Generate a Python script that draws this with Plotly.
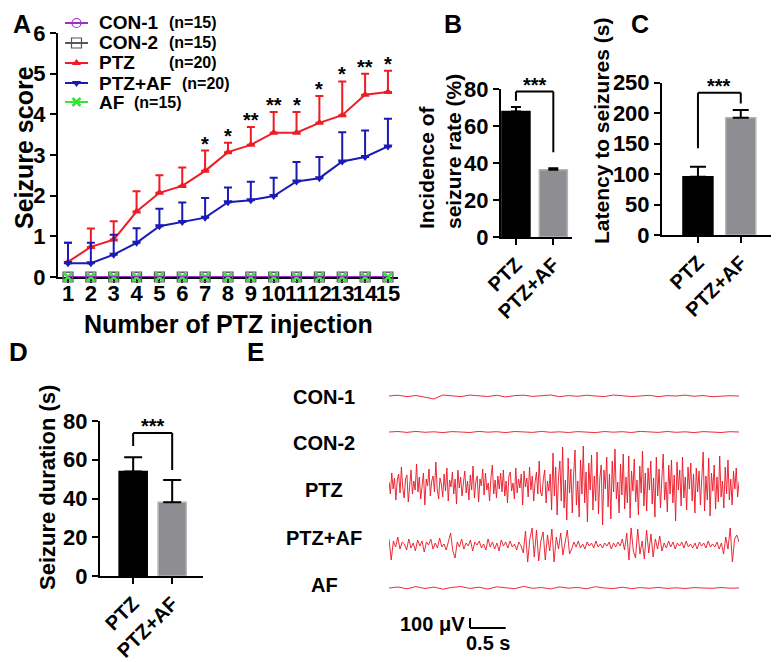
import plotly.graph_objects as go

# The page body has an 8 px margin, so the figure is drawn 8 px smaller and
# every layout position (given in reference-picture pixels) is shifted by it.
OFF = 8
FW, FH = 779 - OFF, 662 - OFF
FONT = "Liberation Sans, Arial, sans-serif"

def px(x):
    return (x - OFF) / FW

def py(y):
    return 1 - (y - OFF) / FH

# ---------------- Panel A data ----------------
injections = list(range(1, 16))
ptz_mean = [0.37, 0.74, 0.92, 1.61, 2.07, 2.24, 2.61, 3.07, 3.25, 3.55, 3.55, 3.79, 3.98, 4.48, 4.55]
ptz_err = [0.47, 0.45, 0.45, 0.50, 0.43, 0.45, 0.50, 0.23, 0.44, 0.51, 0.51, 0.66, 0.83, 0.52, 0.52]
ptzaf_mean = [0.34, 0.34, 0.55, 0.84, 1.25, 1.35, 1.46, 1.84, 1.89, 1.99, 2.35, 2.43, 2.84, 2.95, 3.21]
ptzaf_err = [0.50, 0.50, 0.49, 0.36, 0.43, 0.48, 0.48, 0.36, 0.45, 0.45, 0.48, 0.52, 0.72, 0.65, 0.68]
con1_score = [0, 0, 0, 0, 0, 0, 0, 0, 0, 0, 0, 0, 0, 0, 0]
con2_score = [0, 0, 0, 0, 0, 0, 0, 0, 0, 0, 0, 0, 0, 0, 0]
af_score = [0, 0, 0, 0, 0, 0, 0, 0, 0, 0, 0, 0, 0, 0, 0]
sig_A = ["", "", "", "", "", "", "*", "*", "**", "**", "*", "*", "*", "**", "*"]
legend_names = ["CON-1", "CON-2", "PTZ", "PTZ+AF", "AF"]
legend_n = ["(n=15)", "(n=15)", "(n=20)", "(n=20)", "(n=15)"]

# ---------------- Panels B, C, D data ----------------
groups = ["PTZ", "PTZ+AF"]
incidence = [67.8, 36.3]
incidence_err = [2.5, 0.9]
latency = [95.6, 192.5]
latency_err = [16.4, 12.5]
duration = [54.0, 38.0]
duration_err = [7.3, 11.5]
# significance brackets: (left foot, top, right foot)
bracket_B = [73.6, 78.6, 45.8]
bracket_C = [142.6, 233.5, 216.0]
bracket_D = [67.1, 73.8, 54.7]

# ---------------- Panel E data (EEG, microvolts) ----------------
eeg_con1 = [0, 8, -6, 5, -12, -30, 10, 4, -6, 9, 0, -5, 7, -9, 4, 8, -4, 0, 10, -7,
            5, -3, 8, 0, -6, 10, 4, -5, 0, 7, -7, 4, 0, 9, -3, 5, -7, 0, 3, 0]
eeg_con2 = [0, 5, -4, 6, -3, 2, -6, 4, 0, -5, 6, -2, 3, -6, 5, 0, -4, 6, -3, 2,
            -5, 4, 0, -6, 5, -2, 3, -5, 6, 0, -4, 5, -3, 2, -6, 4, 0, -5, 3, 0]
eeg_ptz = [30, -90, 120, -40, 70, -150, 50, 110, -80, 180, -30, -130, 60, 100, -170, 20, 150, -90, 40, -50,
           210, -70, 80, -140, 30, 120, -200, 60, -10, 160, -110, 40, 90, -70, 230, -40, -140, 70, 10, -120,
           110, -60, 170, -160, 50, -20, 130, -90, 60, -190, 150, -30, 80, -110, 20, 140, -80, 40, -150, 100,
           -50, 190, -130, 30, 90, -170, 60, -10, 160, -100, 120, -50, 20, -160, 80, 200, -90, 50, -130, 90,
           -40, 120, -70, 150, -110, 40, -180, 90, 130, -60, 20, -140, 170, -80, 60, -30, 110, -200, 140, -20,
           70, -120, 180, -50, 90, -160, 30, 130, -90, 240, -70, -110, 60, 150, -180, 40, -60, 110,
           -250, 320, -110, 180, -300, 80, 240, -160, 380, -230, 50, -350, 270, -80, 160, -280, 110, 350, -200, 40,
           -320, 250, -90, 390, -180, 130, -370, 220, -50, 300, -250, 90, -160, 330, -290, 70, 200, -400, 150, -40,
           280, -220, 110, -340, 240, -70, 360, -140, 30, -280, 210, -100, 310, -240, 80, -180, 290, -330, 140, -60,
           260, -170, 50, -300, 190, -80, 340, -210, 120, -260, 170, -50, 240, -190, 70, -320, 280, -110, 160, -230,
           60, 310, -150, 30, -270, 200, -90, 250, -180, 100, -360, 230, -50, 150, -210, 280, -130, 80, -250, 180,
           -40, 220, -160, 110, -280, 170, -70, 140, -200, 50, 330, -260, 90, -150, 270, -310, 120, -60, 200, -240,
           80, -170, 290, -120, 40, -230, 180, -90, 250, -150, 60, -200, 140, -40, 170, -120, 30]
eeg_ptzaf = [60, -150, 40, -20, 80, -40, 30, 10, -50, 60, -30, 20, -60, 50, -10, 40, -70, 30, 0, 60,
             -40, 20, -30, 70, -20, 10, -50, 40, 120, -60, -130, 30, -20, 60, -40, 20, -10, 50, -60, 30,
             0, 40, -30, 10, -50, 60, -20, 30, -40, 20, -60, 50, -10, 30, -30, 40, -20, 10, -50, 30, -10,
             -80, 140, -170, 60, 170, -120, 150, -160, 40, 130, -150, 100, -60, 160, -170, 80, -40, 120, -100, 30,
             150, -90, -40, 30, -20, 40, -30, 10, -40, 30, -10, 20, -30, 40, -20, 10, -30, 20, -10, 30,
             -40, 20, -20, 30, -10, 60, -50,
             120, -150, 170, -60, -130, 160, -90, 40, -140, 150, -80, 110, -120, 60, -40,
             90, -60, 20, -30, 40, -20, 30, -40, 20, -10, 30, -30, 40, -20, 10, -30, 20, -40, 30, -10,
             20, -30, 40, -20, 10, -20, 30, -40, 20,
             -90, 80, -40, 170, -170, 60, 100, 30]
eeg_af = [0, 10, -8, 14, -5, 9, -12, 6, 15, -4, 8, -10, 12, 0, -7, 16, -3, 5, -9, 11,
          -2, 6, -8, 13, 0, -5, 8, -6, 4, -3, 6, -4, 2, -5, 4, 0, -3, 5, -2, 0]
eeg_names = ["CON-1", "CON-2", "PTZ", "PTZ+AF", "AF"]
eeg_series = [eeg_con1, eeg_con2, eeg_ptz, eeg_ptzaf, eeg_af]
eeg_duration_s = 4.9
# vertical baselines of the stacked traces (layout, in the panel's µV units)
eeg_baselines = [2640, 2280, 1750, 1150, 720]
label_offsets = [2630, 2170, 1700, 1220, 750]

RED = "#ee1c25"
BLUE = "#1a1ab4"
GREY = "#8e8e92"
PURPLE = "#9b30c8"
GREEN = "#33e633"

styles = [
    dict(line=dict(color=PURPLE, width=2), marker=dict(symbol="circle-open", size=9, color=PURPLE, line=dict(width=1.2))),
    dict(line=dict(color="#222222", width=1.5), marker=dict(symbol="square-open", size=10, color="#555555", line=dict(width=1.2))),
    dict(line=dict(color=RED, width=2), marker=dict(symbol="triangle-up", size=8, color=RED)),
    dict(line=dict(color=BLUE, width=2), marker=dict(symbol="triangle-down", size=8, color=BLUE)),
    dict(line=dict(color=GREEN, width=2), marker=dict(symbol="x-thin-open", size=8, color=GREEN, line=dict(width=2.5, color=GREEN))),
]

fig = go.Figure()

# ---------------- Panel A ----------------
series_A = [con1_score, con2_score, ptz_mean, ptzaf_mean, af_score]
errs_A = [None, None, ptz_err, ptzaf_err, None]
for k, (vals, err, st) in enumerate(zip(series_A, errs_A, styles)):
    kw = {}
    if err is not None:
        kw["error_y"] = dict(type="data", array=err, arrayminus=[0] * len(err), symmetric=False,
                             color=st["line"]["color"], thickness=2, width=4)
    fig.add_trace(go.Scatter(x=injections, y=vals, mode="lines+markers", xaxis="x", yaxis="y",
                             name=legend_names[k], showlegend=False, cliponaxis=False,
                             line=st["line"], marker=st["marker"], **kw))
# purple control line drawn on top of the zero line
fig.add_trace(go.Scatter(x=injections, y=con1_score, mode="lines", xaxis="x", yaxis="y",
                         line=dict(color=PURPLE, width=2), showlegend=False, cliponaxis=False,
                         hoverinfo="skip"))

annotations = []
for i, s in enumerate(sig_A):
    if s:
        annotations.append(dict(x=injections[i], y=ptz_mean[i] + ptz_err[i], xref="x", yref="y",
                                text="<b>%s</b>" % s, showarrow=False, yanchor="bottom",
                                yshift=-6, font=dict(size=20, color="black", family=FONT)))

# manual legend (legend axes x6/y6 use reference-pixel units)
legend_rows = [23, 43, 63, 83, 102]
for k, st in enumerate(styles):
    fig.add_trace(go.Scatter(x=[65, 88], y=[legend_rows[k]] * 2, mode="lines", xaxis="x6", yaxis="y6",
                             line=st["line"], showlegend=False, hoverinfo="skip", cliponaxis=False))
    fig.add_trace(go.Scatter(x=[76.5], y=[legend_rows[k]], mode="markers", xaxis="x6", yaxis="y6",
                             marker=st["marker"], showlegend=False, hoverinfo="skip", cliponaxis=False))
legend_n_x = [167, 167, 167, 180, 132]
for k in range(5):
    annotations.append(dict(x=px(97), y=legend_rows[k], xref="paper", yref="y6", xanchor="left",
                            text="<b>%s</b>" % legend_names[k], showarrow=False,
                            font=dict(size=19, color="black", family=FONT)))
    annotations.append(dict(x=px(legend_n_x[k]), y=legend_rows[k], xref="paper", yref="y6", xanchor="left",
                            text="<b>%s</b>" % legend_n[k], showarrow=False,
                            font=dict(size=16, color="black", family=FONT)))

# ---------------- Bar panels ----------------
bar_specs = [
    ("x2", "y2", incidence, incidence_err, bracket_B, 0.75, 5),
    ("x3", "y3", latency, latency_err, bracket_C, 0.70, 8),
    ("x4", "y4", duration, duration_err, bracket_D, 0.72, 9),
]
shapes = []
for xa, ya, vals, errs, br, bw, cw in bar_specs:
    fig.add_trace(go.Bar(
        x=[0, 1], y=vals, xaxis=xa, yaxis=ya, width=bw, showlegend=False,
        marker=dict(color=["black", GREY], line=dict(color=["black", "#b4b4b8"], width=1.5)),
        error_y=dict(type="data", array=errs, arrayminus=[0, 0], symmetric=False,
                     color="black", thickness=2, width=cw)))
    shapes.append(dict(type="line", xref=xa, yref=ya, x0=0, x1=0, y0=br[0], y1=br[1],
                       line=dict(color="black", width=2)))
    shapes.append(dict(type="line", xref=xa, yref=ya, x0=0, x1=1, y0=br[1], y1=br[1],
                       line=dict(color="black", width=2)))
    shapes.append(dict(type="line", xref=xa, yref=ya, x0=1, x1=1, y0=br[1], y1=br[2],
                       line=dict(color="black", width=2)))
    annotations.append(dict(x=0.5, y=br[1], xref=xa, yref=ya, text="<b>***</b>", showarrow=False,
                            yanchor="bottom", yshift=-6, font=dict(size=20, color="black", family=FONT)))

# ---------------- Panel E ----------------
for name, series, base in zip(eeg_names, eeg_series, eeg_baselines):
    n = len(series)
    t = [eeg_duration_s * i / (n - 1) for i in range(n)]
    fig.add_trace(go.Scatter(
        x=t, y=[base + v for v in series], mode="lines", xaxis="x5", yaxis="y5",
        line=dict(color="rgba(235,20,35,0.9)", width=1), showlegend=False, hoverinfo="skip"))
for name, yl in zip(eeg_names, label_offsets):
    annotations.append(dict(x=px(324), y=yl, xref="paper", yref="y5", text="<b>%s</b>" % name,
                            showarrow=False, font=dict(size=20, color="black", family=FONT)))

# scale bar: 100 µV, 0.5 s
sb_t0, sb_v0 = 1.134, 320
shapes.append(dict(type="line", xref="x5", yref="y5", x0=sb_t0, x1=sb_t0, y0=sb_v0, y1=sb_v0 + 100,
                   line=dict(color="black", width=2)))
shapes.append(dict(type="line", xref="x5", yref="y5", x0=sb_t0, x1=sb_t0 + 0.5, y0=sb_v0, y1=sb_v0,
                   line=dict(color="black", width=2)))
annotations.append(dict(x=sb_t0, y=sb_v0 + 40, xref="x5", yref="y5", text="<b>100 μV</b>",
                        showarrow=False, xanchor="right", xshift=-3,
                        font=dict(size=20, color="black", family=FONT)))
annotations.append(dict(x=sb_t0 + 0.25, y=sb_v0, xref="x5", yref="y5", text="<b>0.5 s</b>",
                        showarrow=False, yanchor="top", yshift=-2,
                        font=dict(size=20, color="black", family=FONT)))

# ---------------- Titles & panel letters ----------------
def ann(text, x, y, size, angle=0, align="center", yanchor="middle", xanchor="center"):
    annotations.append(dict(x=px(x), y=py(y), xref="paper", yref="paper", text=text,
                            showarrow=False, textangle=angle, xanchor=xanchor, yanchor=yanchor,
                            align=align, font=dict(size=size, color="black", family=FONT)))

ann("<b>A</b>", 22, 8, 25, yanchor="top")
ann("<b>B</b>", 453, 8, 25, yanchor="top")
ann("<b>C</b>", 640, 8, 25, yanchor="top")
ann("<b>D</b>", 18, 352, 26)
ann("<b>E</b>", 255, 352, 26)
ann("<b>Seizure score</b>", 8, 148, 25, -90, xanchor="left")
ann("<b>Number of PTZ injection</b>", 228, 324, 25)
ann("<b>Incidence of<br>seizure rate (%)</b>", 440, 152, 21, -90, "left")
ann("<b>Latency to seizures (s)</b>", 602, 131, 21, -90)
ann("<b>Seizure duration (s)</b>", 47, 488, 22, -90)

axis_common = dict(showline=True, linewidth=2, linecolor="black", ticks="outside", ticklen=6,
                   tickwidth=2, tickcolor="black", showgrid=False, zeroline=False, automargin=False,
                   tickfont=dict(size=22, color="black", family=FONT, weight="bold"))

bar_x_common = dict(axis_common, tickvals=[0, 1], ticktext=groups, tickangle=-45,
                    tickfont=dict(size=20, color="black", family=FONT, weight="bold"))

fig.update_layout(
    template="none",
    width=FW, height=FH, autosize=False,
    margin=dict(l=0, r=0, t=0, b=0, pad=0),
    paper_bgcolor="white", plot_bgcolor="rgba(0,0,0,0)",
    font=dict(family=FONT, color="black"),
    showlegend=False,
    xaxis=dict(axis_common, domain=[px(58), px(398)], range=[0.5625, 15.44], tickvals=injections,
               tickangle=0, anchor="y", layer="below traces", ticklen=4, ticklabelstandoff=-8),
    yaxis=dict(axis_common, domain=[py(277), py(33)], range=[0, 6], dtick=1, anchor="x"),
    xaxis2=dict(bar_x_common, domain=[px(501), px(572)], range=[-0.4, 1.5], anchor="y2"),
    yaxis2=dict(axis_common, domain=[py(237), py(89)], range=[0, 80], dtick=20, anchor="x2"),
    xaxis3=dict(bar_x_common, domain=[px(662), px(778)], range=[-0.84, 1.87], anchor="y3"),
    yaxis3=dict(axis_common, domain=[py(235), py(82.7)], range=[0, 250], dtick=50, anchor="x3"),
    xaxis4=dict(bar_x_common, domain=[px(100), px(203)], range=[-0.85, 1.79], anchor="y4"),
    yaxis4=dict(axis_common, domain=[py(576), py(421)], range=[0, 80], dtick=20, anchor="x4"),
    xaxis5=dict(domain=[px(389), px(739)], range=[0, eeg_duration_s], visible=False, anchor="y5"),
    yaxis5=dict(domain=[py(660), py(375)], range=[0, 2850], visible=False, anchor="x5"),
    xaxis6=dict(domain=[px(60), px(96)], range=[60, 96], visible=False, anchor="y6"),
    yaxis6=dict(domain=[py(112), py(13)], range=[112, 13], visible=False, anchor="x6"),
    shapes=shapes,
    annotations=annotations,
)

fig.write_html("out.html")
